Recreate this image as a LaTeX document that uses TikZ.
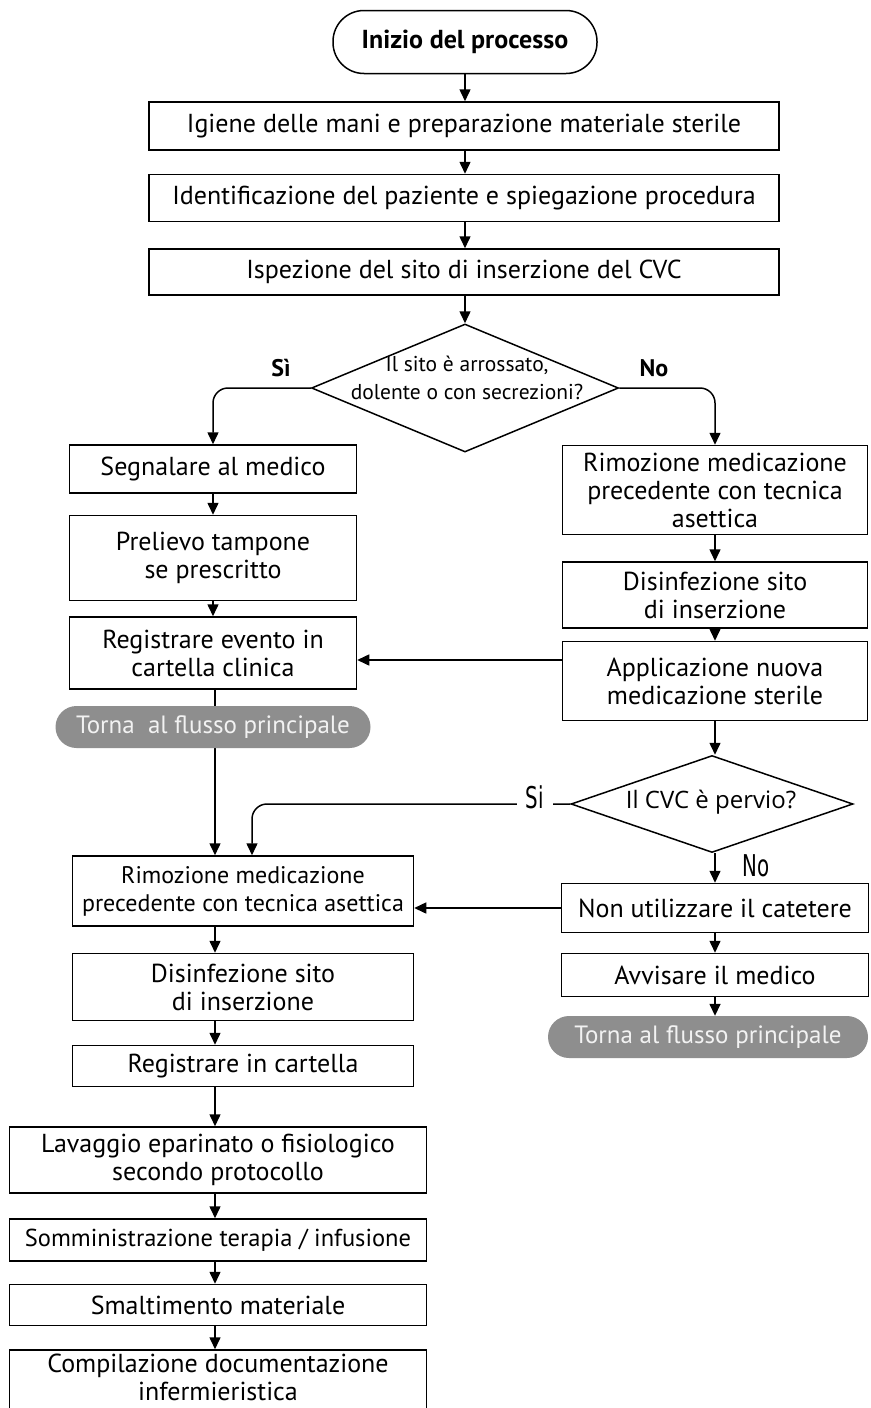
\documentclass[tikz,border=0pt]{standalone}
\usepackage{fontspec}
\setmainfont{PT Sans}
\newfontfamily\condfont[FakeStretch=0.66]{DejaVu Sans}
\newfontfamily\cvcfont{Open Sans}
\usetikzlibrary{arrows.meta,shapes.geometric}
\definecolor{pillgray}{HTML}{8E8E8E}
\definecolor{pilltext}{HTML}{F2F2F2}
\begin{document}
\begin{tikzpicture}[x=1pt,y=-1pt,
  box/.style={draw, line width=1.5pt, rectangle, inner sep=0pt, align=center,
    font=\fontsize{26}{28}\selectfont},
  pill/.style={fill=pillgray, rounded corners=21pt, text=pilltext, inner sep=0pt,
    minimum height=42pt, font=\fontsize{25}{28}\selectfont},
  dec/.style={draw, diamond, line width=1.5pt, inner sep=0pt},
  dectext/.style={align=center, font=\fontsize{21.5}{28}\selectfont, inner sep=0pt},
  arr/.style={line width=1.5pt, -{Triangle[length=12pt,width=11pt]}},
  lbl/.style={font=\bfseries\fontsize{24}{28}\selectfont, inner sep=0pt},
  clbl/.style={font=\condfont\fontsize{30}{32}\selectfont, inner sep=0pt}
]
\useasboundingbox (0,0) rectangle (870,1408);
\fill[white] (0,0) rectangle (870,1408);

\coordinate (colL) at (215,0);
\coordinate (colS) at (252,0);
\coordinate (colT) at (465,0);
\coordinate (yA) at (0,660);

% top spine
\node[draw, line width=1.5pt, rounded corners=31pt, minimum width=264pt, minimum height=63pt,
  inner sep=0pt, font=\bfseries\fontsize{26}{28}\selectfont] (start) at (465,42) {Inizio del processo};
\node[box, minimum width=630pt, minimum height=48pt] (b1) at (464,126) {Igiene delle mani e preparazione materiale sterile};
\node[box, minimum width=630pt, minimum height=47pt] (b2) at (464,198) {Identificazione del paziente e spiegazione procedura};
\node[box, minimum width=630pt, minimum height=46pt] (b3) at (464,272) {Ispezione del sito di inserzione del CVC};
\node[dec, minimum width=307pt, minimum height=128pt] (d1) at (465,388) {};
\node[dectext] (d1t) at (467,378) {Il sito è arrossato,\\dolente o con secrezioni?};
\node[lbl] (si1) at (281,368) {Sì};
\node[lbl] (no1) at (654,368) {No};

% left branch
\node[box, minimum width=287pt, minimum height=48pt] (L1) at (213,469) {Segnalare al medico};
\node[box, minimum width=287pt, minimum height=85pt] (L2) at (213,558) {Prelievo tampone\\se prescritto};
\node[box, minimum width=287pt, minimum height=72pt] (L3) at (213,653) {Registrare evento in\\cartella clinica};

% right branch
\node[box, minimum width=305pt, minimum height=89pt] (R1) at (715,490) {Rimozione medicazione\\precedente con tecnica\\asettica};
\node[box, minimum width=305pt, minimum height=66pt] (R2) at (715,595) {Disinfezione sito\\di inserzione};
\node[box, minimum width=305pt, minimum height=79pt] (R3) at (715,681) {Applicazione nuova\\medicazione sterile};
\node[dec, minimum width=282pt, minimum height=97pt] (d2) at (712,804) {};
\node[inner sep=0pt, font=\cvcfont\fontsize{24}{28}\selectfont] (d2t) at (711,802) {Il CVC è pervio?};
\node[box, minimum width=307pt, minimum height=49pt] (R4) at (715,908) {Non utilizzare il catetere};
\node[box, minimum width=307pt, minimum height=43pt] (R5) at (715,975) {Avvisare il medico};

% main lower column
\node[box, minimum width=341pt, minimum height=70pt, font=\fontsize{24}{28}\selectfont] (M1) at (243,891) {Rimozione medicazione\\precedente con tecnica asettica};
\node[box, minimum width=341pt, minimum height=67pt] (M2) at (243,987) {Disinfezione sito\\di inserzione};
\node[box, minimum width=341pt, minimum height=41pt] (M3) at (243,1066) {Registrare in cartella};
\node[box, minimum width=417pt, minimum height=66pt] (M4) at (218,1160) {Lavaggio eparinato o fisiologico\\secondo protocollo};
\node[box, minimum width=417pt, minimum height=42pt, font=\fontsize{24.5}{28}\selectfont] (M5) at (218,1240) {Somministrazione terapia / infusione};
\node[box, minimum width=417pt, minimum height=41pt] (M6) at (218,1305) {Smaltimento materiale};
\node[box, minimum width=417pt, minimum height=72pt] (M7) at (218,1386) {};
\node[align=center, inner sep=0pt, font=\fontsize{26}{28}\selectfont] (M7t) at (218,1377) {Compilazione documentazione\\infermieristica};

% connectors
\draw[arr] (start.south) -- (b1.north -| start.south);
\draw[arr] (b1.south -| colT) -- (b2.north -| colT);
\draw[arr] (b2.south -| colT) -- (b3.north -| colT);
\draw[arr] (b3.south -| colT) -- (d1.north);
\draw[arr, rounded corners=15pt] (d1.west) -- (L1.north |- d1.west) -- (L1.north);
\draw[arr, rounded corners=15pt] (d1.east) -- (R1.north |- d1.east) -- (R1.north);
\draw[arr] (L1.south) -- (L2.north);
\draw[arr] (L2.south) -- (L3.north);
\draw[arr] (R1.south) -- (R2.north);
\draw[arr] (R2.south) -- (R3.north);
\draw[arr] (R3.west |- yA) -- (L3.east |- yA);
\draw[arr] (L3.south -| colL) -- (M1.north -| colL);
\draw[arr] (R3.south) -- (d2.north -| R3.south);
\draw[arr, rounded corners=15pt] (d2.west) -- (colS |- d2.west) -- (M1.north -| colS);
\node[clbl, fill=white, inner xsep=9pt, inner ysep=2pt] (si2) at (535,797) {Si};
\draw[arr] (d2.south -| R4.north) -- (R4.north);
\node[clbl] (no2) at (756,866) {No};
\draw[arr] (R4.west) -- (M1.east |- R4.west);
\draw[arr] (R4.south) -- (R5.north);
\draw[arr] (M1.south -| colL) -- (M2.north -| colL);
\draw[arr] (M2.south -| colL) -- (M3.north -| colL);
\draw[arr] (M3.south -| colL) -- (M4.north -| colL);
\draw[arr] (M4.south -| colL) -- (M5.north -| colL);
\draw[arr] (M5.south -| colL) -- (M6.north -| colL);
\draw[arr] (M6.south -| colL) -- (M7.north -| colL);

% return pills
\node[pill, minimum width=315pt] (P1) at (213,727) {Torna\ \ al flusso principale};
\node[pill, minimum width=320pt] (P2) at (708,1037) {Torna al flusso principale};
\draw[arr] (R5.south) -- (P2.north -| R5.south);
\end{tikzpicture}
\end{document}
